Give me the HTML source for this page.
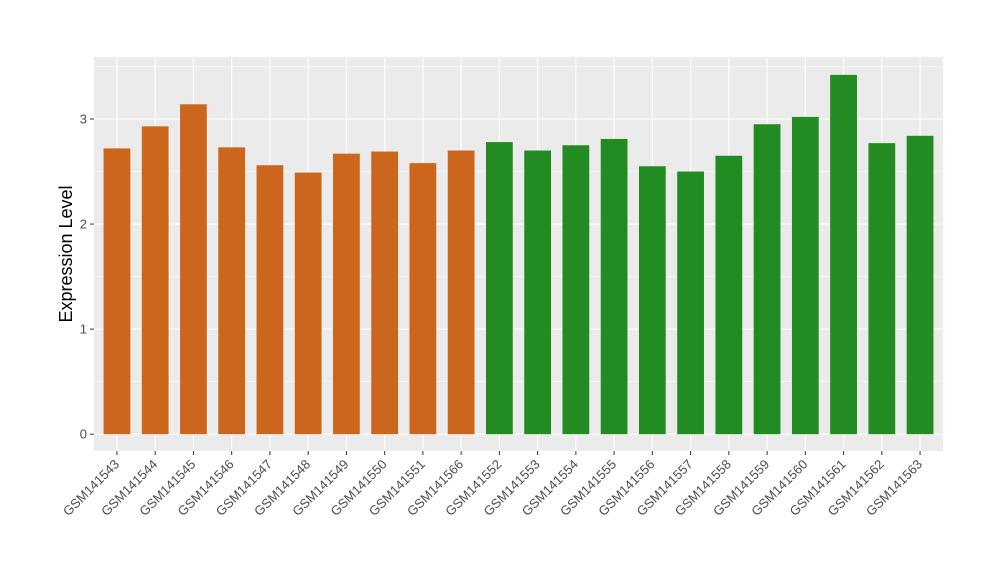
<!DOCTYPE html>
<html><head><meta charset="utf-8"><style>body{margin:0;background:#fff}svg{font-family:"Liberation Sans",sans-serif}</style></head>
<body>
<svg id="chart" width="1000" height="580"></svg>
<script>
const categories=["GSM141543","GSM141544","GSM141545","GSM141546","GSM141547","GSM141548","GSM141549","GSM141550","GSM141551","GSM141566","GSM141552","GSM141553","GSM141554","GSM141555","GSM141556","GSM141557","GSM141558","GSM141559","GSM141560","GSM141561","GSM141562","GSM141563"];
const values=[2.72,2.93,3.14,2.73,2.56,2.49,2.67,2.69,2.58,2.70,2.78,2.70,2.75,2.81,2.55,2.50,2.65,2.95,3.02,3.42,2.77,2.84];
const groups=["a","a","a","a","a","a","a","a","a","a","b","b","b","b","b","b","b","b","b","b","b","b"];
const yTicks=[0,1,2,3];
const colors={a:"#CD661D",b:"#228B22"};
const NS="http://www.w3.org/2000/svg";
const svg=document.getElementById('chart');
const P={l:94,r:943,t:57,b:451};
const yMin=-0.16,yMax=3.59;
const y=v=>P.b-(v-yMin)/(yMax-yMin)*(P.b-P.t);
const step=(P.r-P.l)/(categories.length-1+1.2);
const x=i=>P.l+(0.6+i)*step;
function el(t,a,p){const e=document.createElementNS(NS,t);for(const k in a)e.setAttribute(k,a[k]);(p||svg).appendChild(e);return e;}
const panel=el('rect',{x:P.l,y:P.t,width:P.r-P.l,height:P.b-P.t,fill:'#EBEBEB'});


for(let v=-0.5;v<=3.6;v+=0.5){if(v<yMin)continue;const major=Number.isInteger(v);
const g=el('line',{x1:P.l,x2:P.r,y1:y(v),y2:y(v),stroke:'#fff','stroke-width':major?1.1:0.5});

}
categories.forEach((c,i)=>{const g=el('line',{x1:x(i),x2:x(i),y1:P.t,y2:P.b,stroke:'#fff','stroke-width':1.1});

});
const bw=step*0.7;
categories.forEach((c,i)=>{
const b=el('rect',{x:x(i)-bw/2,y:y(values[i]),width:bw,height:y(0)-y(values[i]),fill:colors[groups[i]]});


const tk=el('line',{x1:x(i),x2:x(i),y1:P.b,y2:P.b+4,stroke:'#333'});


const t=el('text',{x:x(i)+3,y:P.b+14,'text-anchor':'end','font-size':13,fill:'#4D4D4D',transform:`rotate(-45 ${x(i)+3} ${P.b+14})`});
t.textContent=c;

});
yTicks.forEach(v=>{
const tk=el('line',{x1:P.l-4,x2:P.l,y1:y(v),y2:y(v),stroke:'#333'});


const t=el('text',{x:P.l-7,y:y(v)+4.5,'text-anchor':'end','font-size':13,fill:'#4D4D4D'});
t.textContent=v;

});
const yt=el('text',{x:72,y:(P.t+P.b)/2,'text-anchor':'middle','font-size':18,fill:'#000',transform:`rotate(-90 72 ${(P.t+P.b)/2})`});
yt.textContent='Expression Level';


</script>
</body></html>
